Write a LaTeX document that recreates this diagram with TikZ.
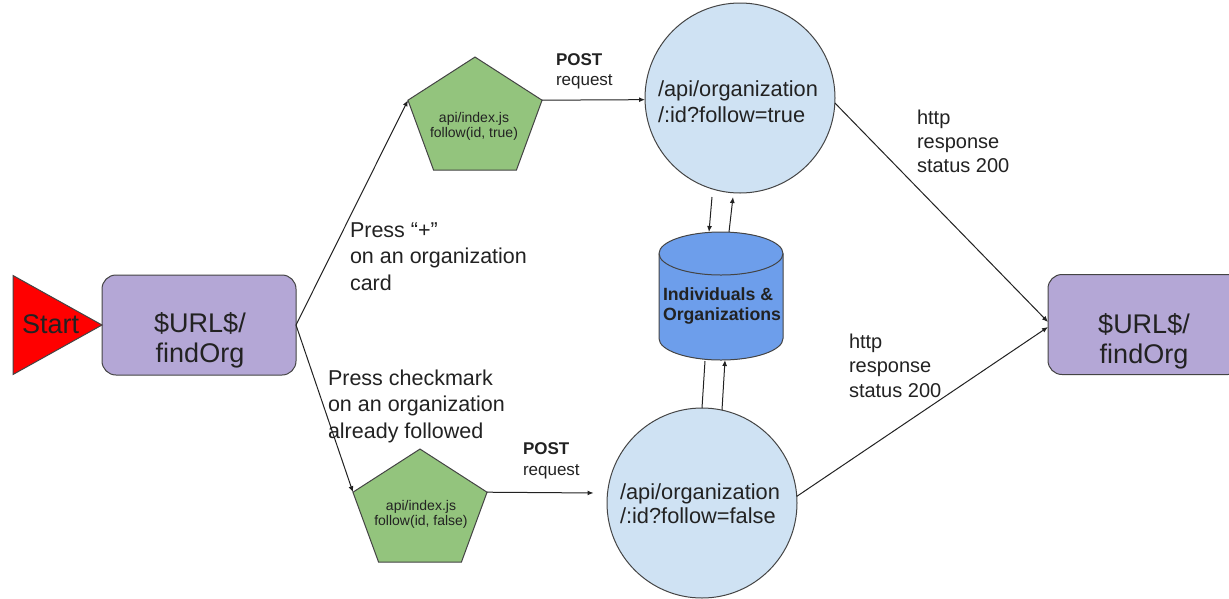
\documentclass[tikz,border=0pt]{standalone}
\usepackage{fontspec}
\setmainfont{Liberation Sans}
\usetikzlibrary{shapes.geometric,arrows.meta}
\definecolor{lav}{HTML}{B4A7D6}
\definecolor{pgreen}{HTML}{93C47D}
\definecolor{lblue}{HTML}{CFE2F3}
\definecolor{cblue}{HTML}{6D9EEB}
\definecolor{edge}{HTML}{444444}
\definecolor{ink}{HTML}{222222}
\newcommand\mleft[2]{\vtop{\baselineskip=#1\relax\lineskiplimit=-100pt\halign{##\hfil\cr#2\crcr}}}
\newcommand\mcenter[2]{\vtop{\baselineskip=#1\relax\lineskiplimit=-100pt\halign{\hfil##\hfil\cr#2\crcr}}}
\tikzset{
 conn/.style={draw=ink, line width=1pt, -{Latex[length=6pt,width=5pt]}},
 plainline/.style={draw=ink, line width=1pt},
 urlbox/.style={draw=edge, fill=lav, line width=1pt, rounded corners=14pt, minimum width=194pt, minimum height=100pt, inner sep=0pt, outer sep=0pt},
 pent/.style={regular polygon, regular polygon sides=5, draw=edge, fill=pgreen, line width=1pt, minimum size=141pt, inner sep=0pt, outer sep=0pt, yscale=0.886},
 apinode/.style={circle, draw=edge, fill=lblue, line width=1pt, minimum size=190pt, inner sep=0pt, outer sep=0pt},
 dbframe/.style={rectangle, minimum width=124pt, minimum height=128pt, inner sep=0pt, outer sep=0pt},
 dbbody/.style={draw=edge, fill=cblue, line width=1pt},
 starttri/.style={isosceles triangle, isosceles triangle stretches, draw=edge, fill=red, line width=1pt, minimum width=99pt, minimum height=89pt, inner sep=0pt, outer sep=0pt},
 txt/.style={inner sep=0pt, outer sep=0pt, text=ink},
}
\begin{document}
\begin{tikzpicture}[x=1pt,y=-1pt]
\useasboundingbox (0,0) rectangle (1229,598);
\clip (0,0) rectangle (1229,598);
\fill[white] (0,0) rectangle (1229,598);
% shapes
\node[urlbox] (url1) at (199,325) {};
\node[starttri, anchor=apex] (start) at (url1.west) {};
\node[urlbox] (url2) at (1145,324.5) {};
\begin{scope}[shift={(475,119.5)}]\node[pent] (pt) at (0,0) {};\end{scope}
\begin{scope}[shift={(420,511.5)}]\node[pent] (pb) at (0,0) {};\end{scope}
\node[apinode] (ct) at (740,98) {};
\node[apinode] (cb) at (702,503) {};
\node[dbframe] (cyl) at (721,296) {};
\path[dbbody] ([yshift=-21.5pt]cyl.north west) -- ([yshift=21.5pt]cyl.south west)
  arc[start angle=180, end angle=360, x radius=62pt, y radius=21.5pt]
  -- ([yshift=-21.5pt]cyl.north east)
  arc[start angle=0, end angle=180, x radius=62pt, y radius=21.5pt] -- cycle;
\draw[edge, line width=1pt] ([yshift=-21.5pt]cyl.north west)
  arc[start angle=180, end angle=360, x radius=62pt, y radius=21.5pt];
% texts
\node[txt, font=\fontsize{27}{30}\selectfont, anchor=base west] (starttxt) at (22,333) {Start};
\node[txt, font=\fontsize{27}{30}\selectfont, anchor=base] (url1txt) at (200,332) {\mcenter{30pt}{\$URL\$/\cr findOrg}};
\node[txt, font=\fontsize{27}{30}\selectfont, anchor=base] (url2txt) at (1144,333) {\mcenter{30pt}{\$URL\$/\cr findOrg}};
\node[txt, font=\fontsize{14}{15}\selectfont, anchor=base] (pttxt) at (474,122) {\mcenter{15pt}{api/index.js\cr follow(id, true)}};
\node[txt, font=\fontsize{14}{15}\selectfont, anchor=base] (pbtxt) at (421,510) {\mcenter{15pt}{api/index.js\cr follow(id, false)}};
\node[txt, font=\fontsize{21.8}{26}\selectfont, anchor=base west] (cttxt) at (658,96) {\mleft{26pt}{/api/organization\cr /:id?follow=true}};
\node[txt, font=\fontsize{21.8}{26}\selectfont, anchor=base west] (cbtxt) at (620,499) {\mleft{24pt}{/api/organization\cr /:id?follow=false}};
\node[txt, font=\bfseries\fontsize{17.7}{20}\selectfont, anchor=base west] (cyltxt) at (663,300) {\mleft{20pt}{Individuals \&\cr Organizations}};
\node[txt, font=\fontsize{17}{20}\selectfont, anchor=base west] (post1) at (556,65) {\mleft{20pt}{\textbf{POST}\cr request}};
\node[txt, font=\fontsize{17}{20}\selectfont, anchor=base west] (post2) at (523,454) {\mleft{21pt}{\textbf{POST}\cr request}};
\node[txt, font=\fontsize{21.5}{26}\selectfont, anchor=base west] (press1) at (350,237) {\mleft{26.5pt}{Press “+”\cr on an organization\cr card}};
\node[txt, font=\fontsize{21.5}{26}\selectfont, anchor=base west] (press2) at (328,385) {\mleft{26.5pt}{Press checkmark\cr on an organization\cr already followed}};
\node[txt, font=\fontsize{20}{24}\selectfont, anchor=base west] (http1) at (917,124) {\mleft{24pt}{http\cr response\cr status 200}};
\node[txt, font=\fontsize{20}{24}\selectfont, anchor=base west] (http2) at (849,348) {\mleft{24.5pt}{http\cr response\cr status 200}};
% connectors
\draw[conn] (url1.east) -- (pt.corner 2);
\draw[conn] (url1.east) -- (pb.corner 2);
\draw[conn] (pt.corner 5) -- (ct.181);
\draw[conn, shorten >=14pt] (pb.corner 5) -- (cb.174);
\draw[conn] (ct.357) -- ([yshift=2.5pt]url2.west);
\draw[conn] (cb.4) -- ([yshift=-2.5pt]url2.west);
\draw[conn] ([xshift=-28pt,yshift=-4pt]ct.south) -- ([xshift=-12pt]cyl.north);
\draw[conn] ([xshift=8pt]cyl.north) -- ([xshift=-7pt,yshift=-4pt]ct.south);
\draw[plainline] (cb.north) -- ([xshift=-16pt,yshift=-1pt]cyl.south);
\draw[conn] ([xshift=20pt,yshift=-2pt]cb.north) -- ([xshift=4pt]cyl.south);
\end{tikzpicture}
\end{document}
